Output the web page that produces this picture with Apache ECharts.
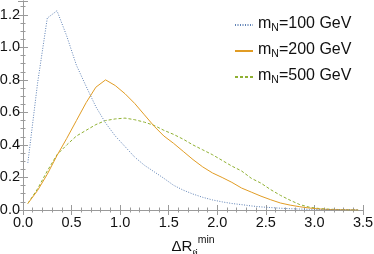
<!DOCTYPE html>
<html><head><meta charset="utf-8">
<script src="https://cdn.jsdelivr.net/npm/echarts@6/dist/echarts.min.js"></script>
<style>html,body{margin:0;padding:0;background:#fff}#c{width:374px;height:254px}</style>
</head><body><div id="c"></div>
<script>
var xs = [0.05,0.15,0.25,0.35,0.45,0.55,0.65,0.75,0.85,0.95,1.05,1.15,1.25,1.35,1.45,1.55,1.65,1.75,1.85,1.95,2.05,2.15,2.25,2.35,2.45,2.55,2.65,2.75,2.85,2.95,3.05,3.15,3.25,3.35,3.45];
var m100 = [0.29,0.78,1.18,1.225,1.07,0.89,0.76,0.635,0.535,0.455,0.39,0.325,0.275,0.235,0.195,0.152,0.122,0.098,0.078,0.062,0.050,0.040,0.033,0.025,0.019,0.015,0.011,0.008,0.006,0.004,0.003,0.002,0.001,0.001,0.0];
var m200 = [0.04,0.12,0.22,0.335,0.44,0.55,0.66,0.755,0.80,0.765,0.715,0.655,0.585,0.515,0.455,0.41,0.36,0.31,0.265,0.228,0.20,0.17,0.135,0.11,0.085,0.063,0.043,0.03,0.02,0.012,0.006,0.003,0.002,0.001,0.0];
var m500 = [0.04,0.13,0.24,0.34,0.40,0.455,0.49,0.525,0.55,0.56,0.565,0.555,0.54,0.52,0.49,0.465,0.435,0.40,0.37,0.34,0.305,0.27,0.24,0.195,0.165,0.125,0.09,0.06,0.033,0.017,0.009,0.005,0.003,0.001,0.0];
var names = ['m100','m200','m500'];
var masses = ['100','200','500'];
var xTicks = [0,0.5,1,1.5,2,2.5,3,3.5];

function pairs(ys){ return xs.map(function(x,i){ return [x, ys[i]]; }); }
var colors = ['#5E81B5','#E19C24','#8FB032'];
var types = [[1,1.5],'solid',[3,2]];
var sets = [m100,m200,m500];

var chart = echarts.init(document.getElementById('c'), null, {renderer:'canvas'});
var tickStyle = {show:true, inside:true, length:5, lineStyle:{color:'#9a9a9a', width:1}};
var lblFont = {fontFamily:'Liberation Sans, Arial, sans-serif', fontSize:14.5, color:'#111'};
chart.setOption({
  animation:false,
  grid:{left:23, right:11, top:1, bottom:44, show:false, containLabel:false, outerBoundsMode:'none'},
  legend:{
    left: 229, top: 11, orient:'vertical', itemGap: 8, itemWidth:18, itemHeight:10,
    data: names,
    itemStyle:{opacity:0},
    formatter: function(n){ return '{m|m}{n|N}{m|=' + masses[names.indexOf(n)] + ' GeV}'; },
    textStyle:{fontFamily:'Liberation Sans, Arial, sans-serif', color:'#111',
      rich:{ m:{fontSize:16, lineHeight:18, verticalAlign:'top'}, n:{fontSize:10.5, lineHeight:18, verticalAlign:'bottom', padding:[6,0,0,0]} } }
  },
  xAxis:[{
    type:'value', min:0, max:3.5, interval:0.5,
    axisLine:{show:true, lineStyle:{color:'#9a9a9a'}},
    axisTick: tickStyle, minorTick:{show:true, splitNumber:5, length:2.5, lineStyle:{color:'#9a9a9a'}},
    splitLine:{show:false},
    axisLabel: Object.assign({margin:5, formatter:function(v){return v.toFixed(1);}}, lblFont),
    name:'{a|ΔR}{s|ℓj}{p|min}', nameLocation:'middle', nameGap:21,
    nameTextStyle:{fontFamily:'Liberation Sans, Arial, sans-serif', color:'#111', verticalAlign:'top',
      rich:{ a:{fontSize:15, lineHeight:24, verticalAlign:'middle'}, s:{fontSize:10, lineHeight:10, verticalAlign:'bottom'}, p:{fontSize:10.5, lineHeight:10, verticalAlign:'top'} } }
  },{
    type:'value', position:'top', min:0, max:3.5, interval:0.5,
    axisLine:{show:true, lineStyle:{color:'#9a9a9a'}},
    axisTick: tickStyle, minorTick:{show:true, splitNumber:5, length:2.5, lineStyle:{color:'#9a9a9a'}},
    splitLine:{show:false}, axisLabel:{show:false}
  }],
  yAxis:[{
    type:'value', min:0, max:1.285, interval:0.2,
    axisLine:{show:true, lineStyle:{color:'#9a9a9a'}},
    axisTick: tickStyle, minorTick:{show:true, splitNumber:4, length:2.5, lineStyle:{color:'#9a9a9a'}},
    splitLine:{show:false},
    axisLabel: Object.assign({margin:3, showMaxLabel:false, formatter:function(v){return v.toFixed(1);}}, lblFont)
  },{
    type:'value', position:'right', min:0, max:1.285, interval:0.2,
    axisLine:{show:true, lineStyle:{color:'#9a9a9a'}},
    axisTick: tickStyle, minorTick:{show:true, splitNumber:4, length:2.5, lineStyle:{color:'#9a9a9a'}},
    splitLine:{show:false}, axisLabel:{show:false}
  }],
  series: sets.map(function(s,i){
    return {name:names[i], type:'line', data:pairs(s), symbol:'none', showSymbol:false,
      color: colors[i], lineStyle:{color:colors[i], width:1, type:types[i]}, z: 3-i};
  })
});
</script></body></html>
